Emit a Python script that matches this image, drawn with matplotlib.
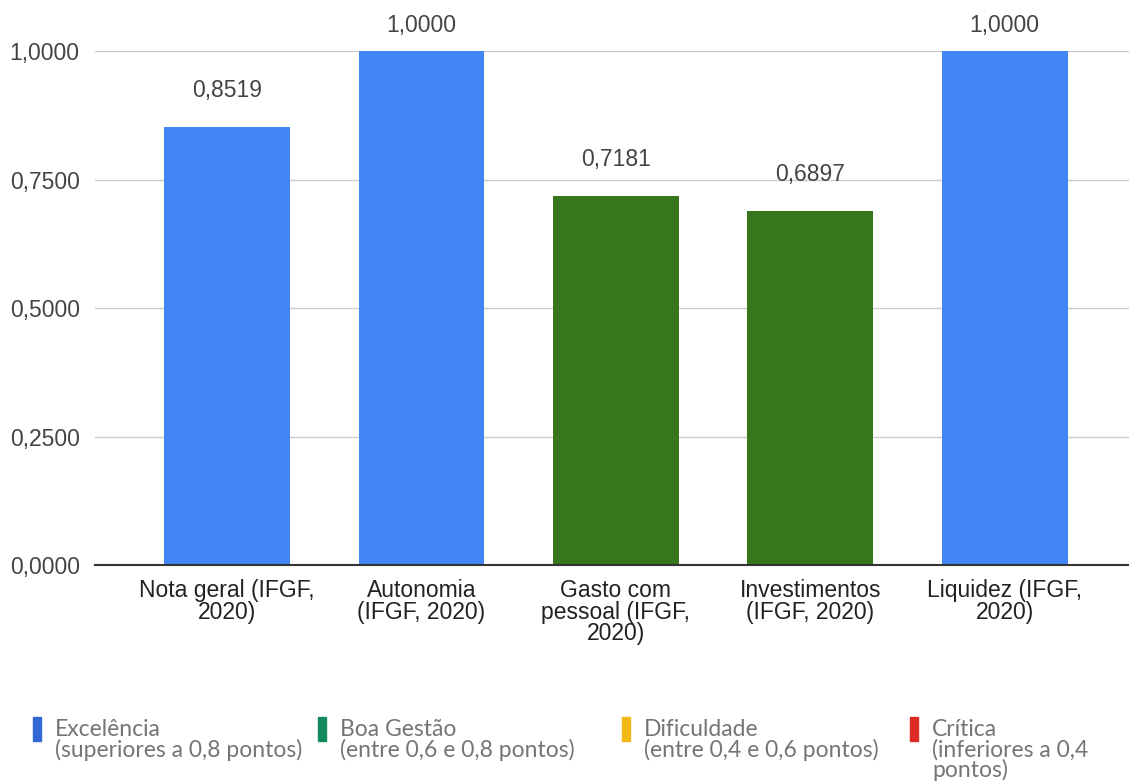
import matplotlib
matplotlib.use('Agg')
import matplotlib.pyplot as plt
from matplotlib.patches import Rectangle

categories = ["Nota geral (IFGF,\n2020)", "Autonomia\n(IFGF, 2020)",
              "Gasto com\npessoal (IFGF,\n2020)", "Investimentos\n(IFGF, 2020)",
              "Liquidez (IFGF,\n2020)"]
values = [0.8519, 1.0000, 0.7181, 0.6897, 1.0000]
bar_colors = ['#4285f4', '#4285f4', '#38761d', '#38761d', '#4285f4']
yticks = [0.0, 0.25, 0.5, 0.75, 1.0]

legend_labels = ["Excelência\n(superiores a 0,8 pontos)",
                 "Boa Gestão\n(entre 0,6 e 0,8 pontos)",
                 "Dificuldade\n(entre 0,4 e 0,6 pontos)",
                 "Crítica\n(inferiores a 0,4\npontos)"]
legend_colors = ['#3367d6', '#138a5e', '#f1b816', '#dc2a24']

SANS = ['Liberation Sans', 'DejaVu Sans']
ROUND = ['Lato', 'DejaVu Sans']
FS = 16.5


def fmt(v):
    return f"{v:.4f}".replace('.', ',')


plt.rcParams['font.family'] = SANS

fig = plt.figure(figsize=(11.29, 7.83), dpi=100)
ax = fig.add_axes([0.0841, 0.2784, 0.9159, 0.6564])

x = range(len(values))
ax.bar(x, values, width=0.648, color=bar_colors, zorder=3)

# value labels above bars, kept inside the top margin
for xi, v in zip(x, values):
    ax.text(xi, min(v + 0.071, 1.05), fmt(v), ha='center', va='center',
            fontsize=FS, color='#444444', family=SANS, zorder=4, clip_on=False)

ax.set_xlim(-0.68, 4.64)
ax.set_ylim(0, 1.0)
ax.set_yticks(yticks)
ax.set_yticklabels([fmt(t) for t in yticks], fontsize=FS, color='#444444',
                   family=SANS)
ax.set_xticks(list(x))
ax.set_xticklabels(categories, fontsize=FS, color='#222222', family=SANS,
                   linespacing=0.93, multialignment='center')
ax.tick_params(axis='both', length=0)
ax.tick_params(axis='y', pad=11)
ax.tick_params(axis='x', pad=10)

ax.grid(axis='y', color='#cccccc', linewidth=1.0, zorder=0)
ax.axhline(0, color='#333333', linewidth=1.5, zorder=5, clip_on=False)
for s in ax.spines.values():
    s.set_visible(False)

# legend row along the bottom
leg_x = [33, 318, 622, 910]
W, H = 1129.0, 783.0
for lx, lab, col in zip(leg_x, legend_labels, legend_colors):
    fig.patches.append(Rectangle((lx / W, 1 - 741 / H), 8 / W, 24 / H,
                                 transform=fig.transFigure, color=col))
    fig.text((lx + 22) / W, 1 - 719 / H, lab, ha='left', va='top',
             fontsize=FS, color='#757575', family=ROUND, linespacing=0.93)

fig.savefig('out.png', dpi=100)
